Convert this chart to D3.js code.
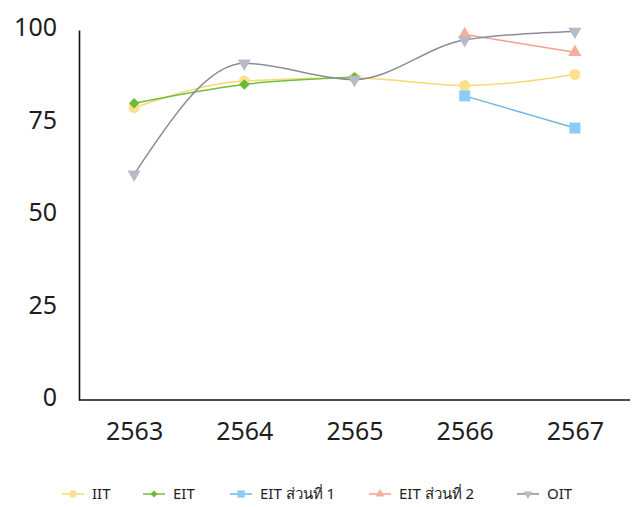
<!DOCTYPE html>
<html>
<head>
<meta charset="utf-8">
<script src="https://cdn.jsdelivr.net/npm/d3@7"></script>
<style>
  body { margin: 0; background: #fff; }
  svg text { font-family: "Noto Sans", "Lato", sans-serif; fill: #1e1e1e; }
</style>
</head>
<body>
<div id="chart"></div>
<script>
// data
const years = ["2563", "2564", "2565", "2566", "2567"];
const yTicks = [0, 25, 50, 75, 100];

const iit = [79, 86.2, 87, 85, 88];
const eit = [80.2, 85.3, 87.2, null, null];
const eitPart1 = [null, null, null, 82.2, 73.5];
const eitPart2 = [null, null, null, 98.8, 94];
const oit = [61, 91, 86.6, 97.3, 99.6];

const seriesNames = ["IIT", "EIT", "EIT ส่วนที่ 1", "EIT ส่วนที่ 2", "OIT"];
const seriesValues = [iit, eit, eitPart1, eitPart2, oit];
const lineColors = ["#f8d970", "#74be3e", "#72b6e4", "#f2a190", "#8c8c96"];
const markerColors = ["#fde08e", "#6cbb36", "#8ecbf6", "#f6ae9c", "#b9b9cc"];
const markerShapes = [d3.symbolCircle, d3.symbolSquare, d3.symbolSquare, d3.symbolTriangle, d3.symbolTriangle];
const markerSizes = [95, 55, 121, 75, 75];
const markerRotate = [0, 45, 0, 0, 180];

const W = 638, H = 507;
const margin = { top: 30, left: 79, right: 8, bottom: 107 };

const svg = d3.select("#chart").append("svg")
    .attr("width", W)
    .attr("height", H);

const x = d3.scalePoint().domain(years).range([margin.left, 630]).padding(0.5);
const y = d3.scaleLinear().domain([0, 100]).range([H - margin.bottom, margin.top]);

// axes
const yAxis = svg.append("g")
    .attr("transform", `translate(${margin.left},0)`)
    .call(d3.axisLeft(y).tickValues(yTicks).tickSize(0).tickPadding(22));
yAxis.select(".domain").attr("stroke", "#111").attr("stroke-width", 1.6);
yAxis.selectAll("text").attr("font-size", 25).attr("dy", "0.22em");

const xAxis = svg.append("g")
    .attr("transform", `translate(0,${y(0)})`)
    .call(d3.axisBottom(x).tickSize(0).tickPadding(22));
xAxis.select(".domain").attr("stroke", "#111").attr("stroke-width", 1.6)
    .attr("d", `M${margin.left},0H630`);
xAxis.selectAll("text").attr("font-size", 25).attr("dy", "0.71em");

// lines
const line = d3.line()
    .defined(d => d.v != null)
    .x(d => x(d.year))
    .y(d => y(d.v))
    .curve(d3.curveMonotoneX);

seriesValues.forEach((vals, i) => {
    const pts = vals.map((v, j) => ({ year: years[j], v: v }));
    svg.append("path")
        .datum(pts)
        .attr("fill", "none")
        .attr("stroke", lineColors[i])
        .attr("stroke-width", 1.5)
        .attr("d", line);

    svg.selectAll(".m" + i)
        .data(pts.filter(d => d.v != null))
        .enter().append("path")
        .attr("class", "m" + i)
        .attr("transform", d => `translate(${x(d.year)},${y(d.v)}) rotate(${markerRotate[i]})`)
        .attr("d", d3.symbol().type(markerShapes[i]).size(markerSizes[i]))
        .attr("fill", markerColors[i]);
});

// legend
const legendX = [62, 143, 230, 369, 517];
const legend = svg.append("g").attr("transform", "translate(0,494)");
seriesNames.forEach((name, i) => {
    const g = legend.append("g").attr("transform", `translate(${legendX[i]},0)`);
    g.append("line")
        .attr("x1", 0).attr("x2", 22)
        .attr("stroke", lineColors[i])
        .attr("stroke-width", 1.5);
    g.append("path")
        .attr("transform", `translate(11,0) rotate(${markerRotate[i]})`)
        .attr("d", d3.symbol().type(markerShapes[i]).size(markerSizes[i] * 0.45))
        .attr("fill", markerColors[i]);
    g.append("text")
        .attr("x", 30)
        .attr("dy", "0.35em")
        .attr("font-size", 15)
        .text(name);
});
</script>
</body>
</html>
